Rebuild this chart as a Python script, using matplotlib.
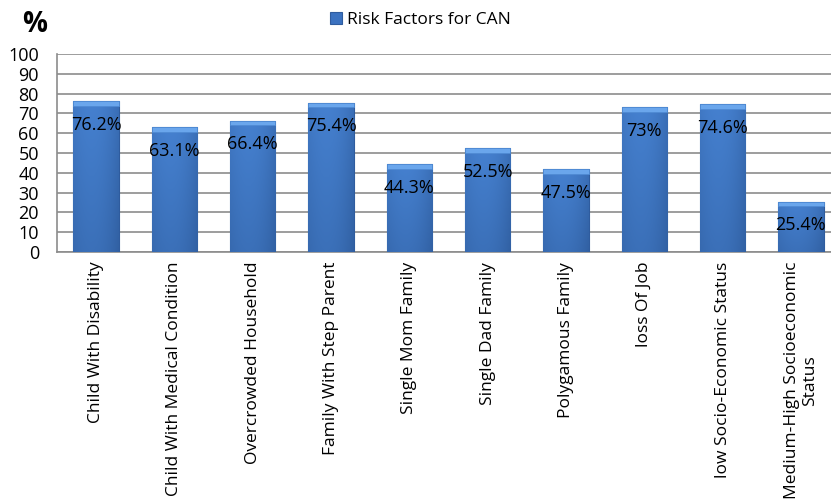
import numpy as np
import matplotlib
matplotlib.use("Agg")
import matplotlib.pyplot as plt

plt.rcParams['font.family'] = ['Open Sans', 'DejaVu Sans']

# data
categories = ['Child With Disability', 'Child With Medical Condition', 'Overcrowded Household',
              'Family With Step Parent', 'Single Mom Family', 'Single Dad Family',
              'Polygamous Family', 'loss Of Job', 'low Socio-Economic Status',
              'Medium-High Socioeconomic\nStatus']
values = [76.2, 63.1, 66.4, 75.4, 44.3, 52.3, 41.9, 73.0, 74.6, 25.4]
value_labels = ['76.2%', '63.1%', '66.4%', '75.4%', '44.3%', '52.5%', '47.5%', '73%', '74.6%', '25.4%']
series_name = 'Risk Factors for CAN'

fig = plt.figure(figsize=(8.31, 5.0), dpi=100)
ax = fig.add_axes([57 / 831, 248 / 500, 783 / 831, 198 / 500])

x = np.arange(len(categories))
bars = ax.bar(x, values, width=0.58, color='#3B72C0', edgecolor='#2F5C9E', linewidth=0.8,
              label=series_name, zorder=3)

# soft bevel look: gradient clipped to each bar
grad = np.linspace(0, 1, 64)
horiz = 1 - 0.12 * np.abs(grad - 0.4) ** 2 * 2.5
vert = np.linspace(1.0, 0.9, 64)[:, None]
shade = vert * horiz[None, :]
cmap = matplotlib.colors.LinearSegmentedColormap.from_list('b', ['#2C5897', '#4580CF'])
for b in bars:
    bx, bw, bh = b.get_x(), b.get_width(), b.get_height()
    im = ax.imshow(shade, cmap=cmap, vmin=0.75, vmax=1.0, aspect='auto',
                   extent=[bx, bx + bw, 0, bh], zorder=3.5, interpolation='bilinear')
    im.set_clip_path(b)

# light top cap
cap = 2.3
ax.bar(x, [cap] * len(values), bottom=np.array(values) - cap, width=0.58,
       color='#6AA6EC', edgecolor='#4F8AD3', linewidth=0.6, zorder=4)

for xi, v, lab in zip(x, values, value_labels):
    ax.annotate(lab, (xi, v), xytext=(0, -17), textcoords='offset points',
                ha='center', va='center', fontsize=13, color='black', zorder=5)

ax.set_xlim(-0.5, len(categories) - 0.5)
ax.set_ylim(0, 100)
ax.set_yticks(range(0, 101, 10))
ax.yaxis.grid(True, color='#8C8C8C', linewidth=1.2, zorder=0)
ax.set_axisbelow(True)
for s in ['top', 'right']:
    ax.spines[s].set_visible(False)
ax.spines['left'].set_color('#8C8C8C')
ax.spines['bottom'].set_color('#8C8C8C')
ax.spines['left'].set_linewidth(1.2)
ax.spines['bottom'].set_linewidth(1.2)
ax.tick_params(axis='y', length=0, labelsize=13, pad=13)
ax.tick_params(axis='x', length=0, pad=7)
ax.set_xticks(x)
ax.set_xticklabels(categories, rotation=90, fontsize=12.5, va='top', ha='center',
                   multialignment='center', linespacing=1.15)

fig.text(35 / 831, 1 - 24 / 500, '%', fontsize=20, fontweight='bold', ha='center', va='center')

fig.legend(handles=[bars], labels=[series_name], loc='center', bbox_to_anchor=(0.506, 0.96),
           frameon=False, fontsize=12.5, handlelength=0.7, handleheight=0.7, handletextpad=0.3)

fig.savefig('out.png', dpi=100)
